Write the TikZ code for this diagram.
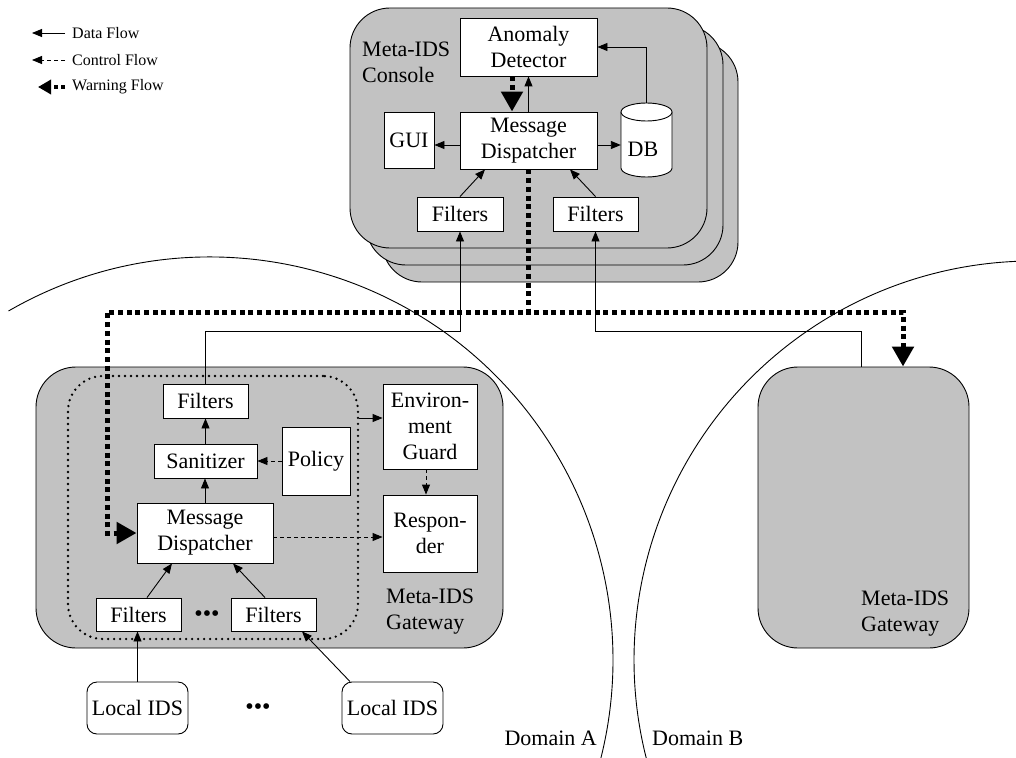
\documentclass[tikz,border=0pt]{standalone}
\usepackage{fontspec}
\setmainfont{Liberation Serif}
\usetikzlibrary{arrows.meta,calc}
\begin{document}
\begin{tikzpicture}[x=1pt,y=-1pt,
  box/.style={draw, fill=white, line width=0.9pt, inner sep=0pt, align=center, font=\fontsize{22}{26}\selectfont},
  lbl/.style={align=left, inner sep=0pt, font=\fontsize{22}{26}\selectfont},
  legtxt/.style={anchor=west, inner sep=0pt, font=\fontsize{16}{18}\selectfont},
  data/.style={draw, line width=0.9pt, -{Triangle[length=10pt,width=8pt]}},
  ctrl/.style={data, dash pattern=on 4pt off 3pt},
  warn/.style={draw, line width=5pt, dash pattern=on 5pt off 3.7pt, -{Triangle[length=20pt,width=21pt]}},
  legwarn/.style={draw, line width=4pt, dash pattern=on 4pt off 3pt, -{Triangle[length=13pt,width=14pt]}},
  panel/.style={draw, fill=gray!48, line width=0.9pt, rounded corners=40pt, inner sep=0pt},
  grpbox/.style={draw, line width=2.6pt, dash pattern=on 0pt off 6pt, line cap=round, rounded corners=35pt, inner sep=0pt},
  dots/.style={inner sep=0pt, font=\fontsize{24}{24}\selectfont}
]
\useasboundingbox (0,0) rectangle (1016,757);

% domain arcs
\begin{scope}
\clip (0,0) rectangle (1016,757);
\draw[line width=0.9pt] ($(210,660)+(-120:403)$) arc[start angle=-120, end angle=15, radius=403];
\draw[line width=0.9pt] ($(1033,660)+(-85:399)$) arc[start angle=-85, end angle=-200, radius=399];
\end{scope}

% legend
\coordinate (la1) at (65,33); \coordinate (lb1) at (32,33);
\coordinate (la2) at (65,60); \coordinate (lb2) at (32,60);
\coordinate (la3) at (65,87); \coordinate (lb3) at (38,87);
\draw[data] (la1) -- (lb1);
\draw[ctrl] (la2) -- (lb2);
\draw[legwarn] (la3) -- (lb3);
\node[legtxt] (lt1) at (72,33) {Data Flow};
\node[legtxt] (lt2) at (72,60) {Control Flow};
\node[legtxt] (lt3) at (72,87) {Warning Flow};

% console stack
\node[panel, minimum width=356, minimum height=240] (con3) at (560,162) {};
\node[panel, minimum width=357, minimum height=240] (con2) at (544.5,145) {};
\node[panel, minimum width=357, minimum height=240] (con1) at (528.5,128) {};
\node[lbl, anchor=west] (conlbl) at (362,62) {Meta-IDS\\Console};

\node[box, minimum width=137, minimum height=58] (cad) at (528.5,47) {Anomaly\\Detector};
\node[box, minimum width=137, minimum height=57] (cmd) at (528.5,140.5) {Message\\Dispatcher};
\node[box, minimum width=50, minimum height=56] (cgui) at (409,140) {GUI};
\node[inner sep=0pt, minimum width=51, minimum height=74] (db) at (646.5,140) {};
\draw[fill=white, line width=0.9pt] (621,112) -- (621,168) arc[start angle=180, end angle=0, x radius=25.5, y radius=9] -- (672,112);
\draw[fill=white, line width=0.9pt] (646.5,112) ellipse [x radius=25.5, y radius=9];
\node[lbl] (dbt) at (643,149) {DB};
\node[box, minimum width=86, minimum height=34] (cf1) at (460,214) {Filters};
\node[box, minimum width=85, minimum height=34] (cf2) at (595.5,214) {Filters};

% gateways
\node[panel, minimum width=467, minimum height=281] (gwa) at (269.5,507.5) {};
\node[panel, minimum width=211, minimum height=281] (gwb) at (863.5,507.5) {};
\node[lbl, anchor=west] (gwalbl) at (386,612) {Meta-IDS\\Gateway};
\node[lbl, anchor=west] (gwblbl) at (861,614) {Meta-IDS\\Gateway};
\node[grpbox, minimum width=290, minimum height=263] (grp) at (213,507.5) {};

\node[box, minimum width=85, minimum height=34] (gft) at (205.5,401) {Filters};
\node[box, minimum width=103, minimum height=34] (san) at (205.5,461) {Sanitizer};
\node[box, minimum width=68, minimum height=68] (pol) at (316,461) {Policy};
\node[box, minimum width=136, minimum height=60] (gmd) at (205,533) {Message\\Dispatcher};
\node[box, minimum width=94, minimum height=85] (eg) at (430,426.5) {Environ-\\ment\\Guard};
\node[box, minimum width=94, minimum height=77] (resp) at (430,533.5) {Respon-\\der};
\node[box, minimum width=85, minimum height=33] (gf1) at (138.5,614.5) {Filters};
\node[box, minimum width=85, minimum height=33] (gf2) at (273.5,614.5) {Filters};
\node[dots] (gdots) at (207,616) {•••};

\node[box, rounded corners=10pt, minimum width=101, minimum height=52] (lids1) at (137.5,708) {Local IDS};
\node[box, rounded corners=10pt, minimum width=101, minimum height=52] (lids2) at (392.5,708) {Local IDS};
\node[dots] (ldots) at (258,709) {•••};

\node[lbl, anchor=east] (doma) at (597,738) {Domain A};
\node[lbl, anchor=west] (domb) at (652,738) {Domain B};

% console connectors
\draw[data] (cmd.north) -- (cad.south);
\draw[warn] (cad.south -| 512,0) -- (cmd.north -| 512,0);
\draw[data] (cmd.west |- 0,145) -- (cgui.east |- 0,145);
\draw[data] (cmd.east |- 0,145) -- (db.west |- 0,145);
\draw[data] (db.north) |- (cad.east);
\draw[data] (cf1.north) -- (cmd.south -| 485,0);
\draw[data] (cf2.north) -- (cmd.south -| 570,0);

% inter-domain connectors
\coordinate (wl) at (107,312);
\coordinate (wr) at (903,312);
\draw[warn] (cmd.south) |- (wl) |- (gmd.west);
\draw[warn] (cmd.south) |- (wr) -- (wr |- gwb.north);
\draw[data] (gft.north) -- ++(0,-52) -| (cf1.south);
\draw[data] ($(gwb.north)+(-2.5,0)$) -- ++(0,-35) -| (cf2.south);

% gateway A connectors
\draw[data] (gmd.north) -- (gmd.north |- san.south);
\draw[data] (san.north) -- (gft.south);
\draw[ctrl] (pol.west) -- (san.east);
\draw[ctrl] (gmd.east |- 0,537) -- (resp.west |- 0,537);
\draw[ctrl] (eg.south -| 426,0) -- (resp.north -| 426,0);
\draw[data] (grp.east |- 0,418) -- (eg.west |- 0,418);
\draw[data] (gf1.north -| 147,0) -- (gmd.south -| 172,0);
\draw[data] (gf2.north -| 265,0) -- (gmd.south -| 233,0);
\draw[data] (lids1.north) -- (lids1.north |- gf1.south);
\draw[data] (lids2.north -| 350,0) -- (gf2.south -| 302,0);
\end{tikzpicture}
\end{document}
